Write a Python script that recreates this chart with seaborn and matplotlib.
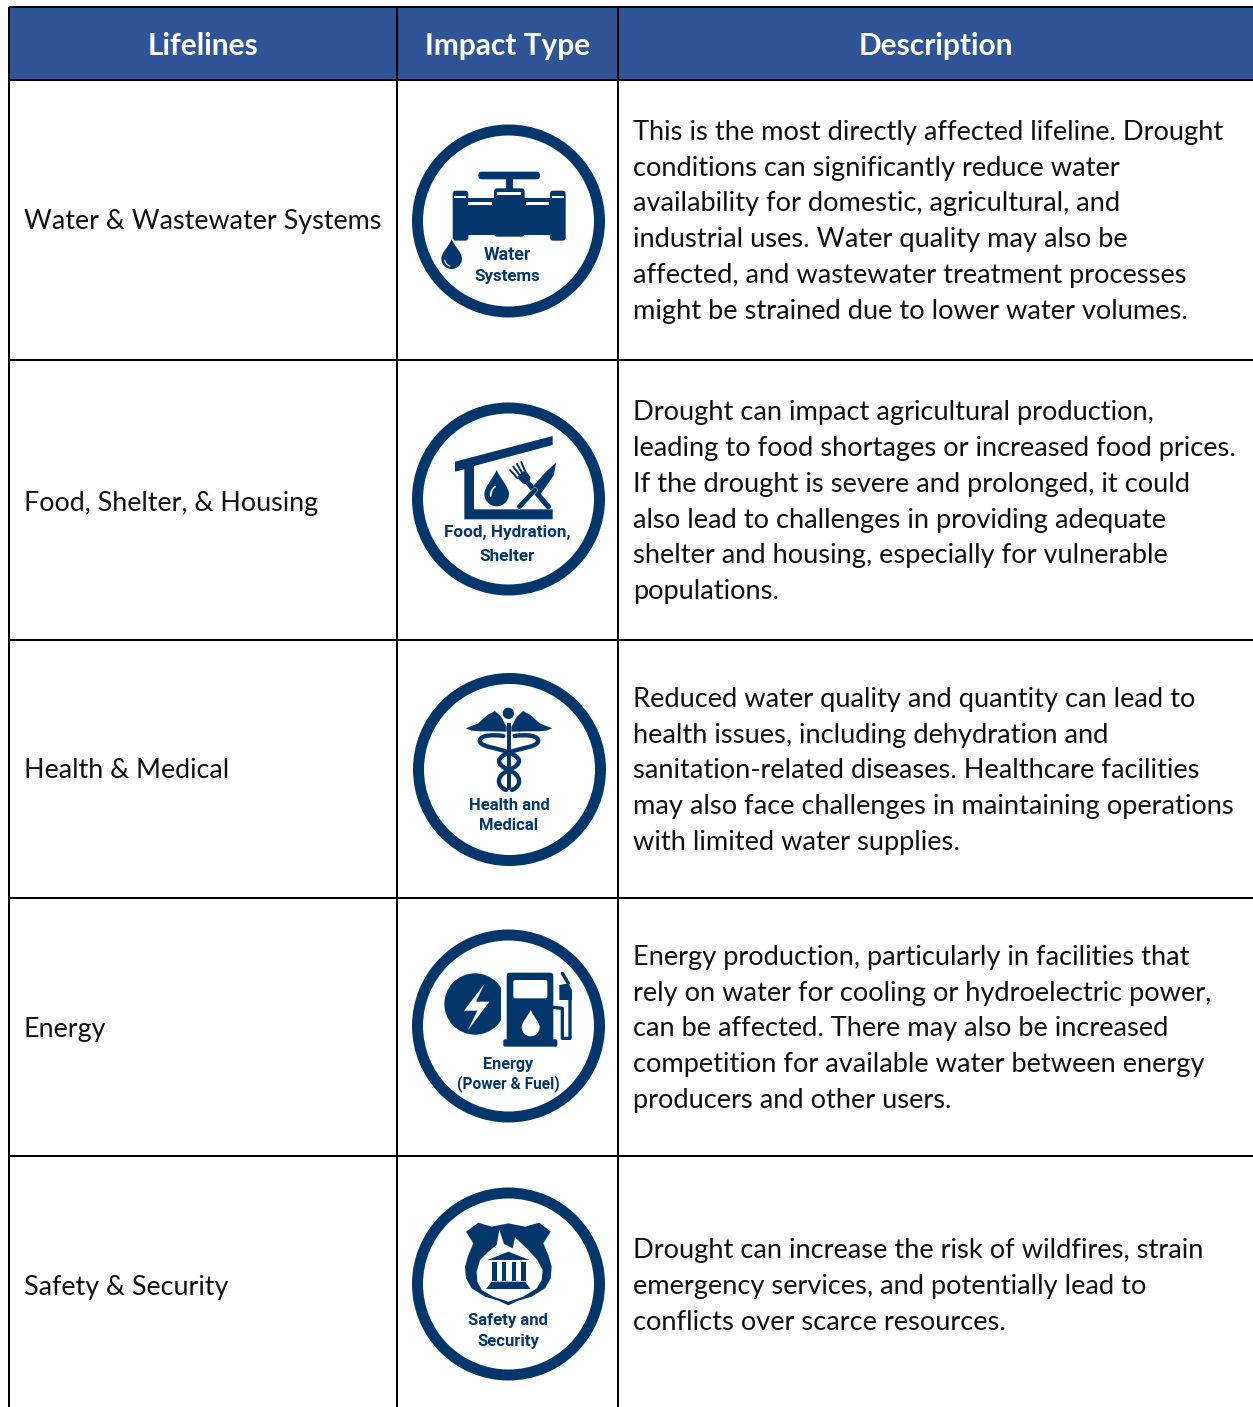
import numpy as np
import seaborn as sns
import matplotlib
matplotlib.use('Agg')
import matplotlib.pyplot as plt
from matplotlib.colors import ListedColormap
from matplotlib.patches import Circle, Polygon, FancyBboxPatch, PathPatch, Rectangle
from matplotlib.path import Path

W, H = 1253, 1407

headers = ["Lifelines", "Impact Type", "Description"]
lifelines = ["Water & Wastewater Systems", "Food, Shelter, & Housing", "Health & Medical",
             "Energy", "Safety & Security"]
lifeline_y = [220, 501, 769, 1027, 1285]
descriptions = [
    ["This is the most directly affected lifeline. Drought",
     "conditions can significantly reduce water",
     "availability for domestic, agricultural, and",
     "industrial uses. Water quality may also be",
     "affected, and wastewater treatment processes",
     "might be strained due to lower water volumes."],
    ["Drought can impact agricultural production,",
     "leading to food shortages or increased food prices.",
     "If the drought is severe and prolonged, it could",
     "also lead to challenges in providing adequate",
     "shelter and housing, especially for vulnerable",
     "populations."],
    ["Reduced water quality and quantity can lead to",
     "health issues, including dehydration and",
     "sanitation-related diseases. Healthcare facilities",
     "may also face challenges in maintaining operations",
     "with limited water supplies."],
    ["Energy production, particularly in facilities that",
     "rely on water for cooling or hydroelectric power,",
     "can be affected. There may also be increased",
     "competition for available water between energy",
     "producers and other users."],
    ["Drought can increase the risk of wildfires, strain",
     "emergency services, and potentially lead to",
     "conflicts over scarce resources."],
]
description_y = [
    [131, 167, 202, 238, 274, 310],
    [411, 447, 483, 519, 554, 590],
    [698, 734, 769, 805, 841],
    [956, 992, 1027, 1063, 1099],
    [1249, 1285, 1321],
]
col_edges = [9, 397, 618, 1253]
row_edges = [7, 80, 360, 640, 898, 1156, 1407]
icon_centres = [(508.5, 221), (508.5, 499), (509.5, 769.5), (508.5, 1026), (508.5, 1284)]
icon_labels = [["Water", "Systems"], ["Food, Hydration,", "Shelter"], ["Health and", "Medical"],
               ["Energy", "(Power & Fuel)"], ["Safety and", "Security"]]

HEADER_BLUE = '#2F5597'
NAVY = '#03376B'
BODY_FONT = ['Lato', 'DejaVu Sans']
ICON_FONT = ['Roboto', 'DejaVu Sans']

sns.set_theme(style='white')
plt.rcParams['font.family'] = BODY_FONT

fig = plt.figure(figsize=(W / 100, H / 100), dpi=100, facecolor='white')


def axes_px(x0, y0, x1, y1):
    return fig.add_axes([x0 / W, 1 - y1 / H, (x1 - x0) / W, (y1 - y0) / H])


# header cells
for i, label in enumerate(headers):
    ax_h = axes_px(col_edges[i], row_edges[0], col_edges[i + 1], row_edges[1])
    sns.heatmap([[1]], ax=ax_h, cmap=ListedColormap([HEADER_BLUE]), cbar=False,
                annot=[[label]], fmt='', xticklabels=False, yticklabels=False,
                annot_kws={'color': 'white', 'fontsize': 21.5, 'fontweight': 'bold'})
    ax_h.texts[0].set_y(0.54)

ax = fig.add_axes([0, 0, 1, 1])
ax.set_xlim(0, W)
ax.set_ylim(H, 0)
ax.axis('off')

# grid
lw2 = 2 * 0.72
for x in col_edges[:-1]:
    ax.vlines(x, row_edges[0], H, color='black', lw=lw2)
for y in row_edges[:-1]:
    ax.hlines(y, col_edges[0], W, color='black', lw=lw2)

# cell text
for label, y in zip(lifelines, lifeline_y):
    ax.text(24, y + 9.5, label, fontsize=19.4, color='#111111', va='baseline')
for lines, ys in zip(descriptions, description_y):
    for line, y in zip(lines, ys):
        ax.text(633, y + 9, line, fontsize=19.65, color='#111111', va='baseline')


class Icon:
    # shapes are given in 3x crop coordinates, relative to a crop origin
    def __init__(self, ox, oy):
        self.ox, self.oy = ox, oy

    def p(self, xy):
        return [(self.ox + x / 3, self.oy + y / 3) for x, y in xy]

    def poly(self, xy, color=NAVY):
        ax.add_patch(Polygon(self.p(xy), closed=True, fc=color, ec='none'))

    def rect(self, x0, y0, x1, y1, color=NAVY, r=0):
        (a, b), (c, d) = self.p([(x0, y0), (x1, y1)])
        if r:
            ax.add_patch(FancyBboxPatch((a + r, b + r), c - a - 2 * r, d - b - 2 * r,
                                        boxstyle=f'round,pad={r}', fc=color, ec='none'))
        else:
            ax.add_patch(Rectangle((a, b), c - a, d - b, fc=color, ec='none'))

    def line(self, xy, t, color=NAVY):
        pts = np.array(self.p(xy))
        ax.plot(pts[:, 0], pts[:, 1], color=color, lw=t / 3 * 0.72, solid_capstyle='round',
                solid_joinstyle='round')

    def curve(self, xy, t, color=NAVY):
        codes = [Path.MOVETO] + [Path.CURVE4] * (len(xy) - 1)
        ax.add_patch(PathPatch(Path(self.p(xy), codes), fc='none', ec=color,
                               lw=t / 3 * 0.72, capstyle='round'))

    def circle(self, x, y, r, color=NAVY):
        (a, b), = self.p([(x, y)])
        ax.add_patch(Circle((a, b), r / 3, fc=color, ec='none'))

    def drop(self, x, tip, cy, r, color=NAVY):
        k = 0.55 * r
        verts = [(x, tip), (x + 0.35 * r, tip + 0.4 * (cy - tip)), (x + r, cy - k), (x + r, cy),
                 (x + r, cy + k), (x + k, cy + r), (x, cy + r),
                 (x - k, cy + r), (x - r, cy + k), (x - r, cy),
                 (x - r, cy - k), (x - 0.35 * r, tip + 0.4 * (cy - tip)), (x, tip)]
        codes = [Path.MOVETO] + [Path.CURVE4] * 12
        ax.add_patch(PathPatch(Path(self.p(verts), codes), fc=color, ec='none'))

    def label(self, x, y, s, size=12.2, weight='bold'):
        (a, b), = self.p([(x, y)])
        ax.text(a, b, s, ha='center', va='center', fontsize=size, color=NAVY,
                fontweight=weight, family=ICON_FONT)


# rings
for (cx, cy) in icon_centres:
    ax.add_patch(Circle((cx, cy), 91, fc='white', ec=NAVY, lw=11 * 0.72))

# water systems
ic = Icon(400, 100)
ic.rect(235, 215, 420, 238, r=3.5)
ic.rect(318, 235, 338, 268)
ic.rect(282, 265, 374, 410, r=3)
ic.rect(158, 272, 205, 422, r=3)
ic.rect(450, 272, 497, 422, r=3)
ic.rect(205, 295, 450, 405)
for box in [(163, 287, 198, 295), (292, 275, 364, 285), (205, 305, 275, 314),
            (377, 305, 448, 314), (456, 287, 492, 295)]:
    ic.rect(*box, color='white')
ic.drop(155, 418, 476, 31)
ic.curve([(134, 480), (136, 490), (142, 496), (150, 498)], 3, color='white')
ic.label(322, 465, icon_labels[0][0], 12.8)
ic.label(322, 530, icon_labels[0][1], 12.2)

# food, hydration, shelter
ic = Icon(400, 390)
ic.poly([(165, 215), (458, 138), (458, 165), (222, 228), (222, 358), (458, 358), (458, 388),
         (193, 388), (193, 238), (165, 245)])
ic.drop(290, 240, 312, 37)
ic.curve([(272, 318), (272, 305), (278, 295), (285, 290)], 5, color='white')
ic.line([(445, 350), (385, 280)], 16)
ic.poly([(350, 262), (376, 240), (392, 262), (385, 285), (368, 280)])
for a, b in [((352, 264), (330, 240)), ((360, 257), (340, 230)),
             ((367, 250), (351, 222)), ((375, 243), (364, 216))]:
    ic.line([a, b], 6)
ic.line([(358, 350), (405, 300)], 16, color='white')
ic.line([(358, 350), (405, 300)], 14)
ic.poly([(468, 218), (462, 255), (420, 315), (395, 293), (440, 243)])
ic.label(322, 428, icon_labels[1][0], 12.3)
ic.label(322, 500, icon_labels[1][1], 12.3)

# health and medical
ic = Icon(400, 660)
ic.circle(325, 160, 17)
wing = [(197, 205), (235, 190), (262, 165), (285, 153), (305, 172), (314, 190), (320, 200),
        (320, 215), (270, 214), (240, 214), (215, 212)]
ic.poly(wing)
ic.poly([(654 - x, y) for x, y in wing])
ic.rect(320, 190, 333, 390)
strand = [(310, 228), (270, 222), (235, 228), (240, 245), (245, 262), (290, 262), (327, 278),
          (362, 292), (372, 310), (327, 330), (292, 345), (285, 375), (318, 390)]
ic.curve(strand, 13)
ic.curve([(654 - x, y) for x, y in strand], 13)
ic.label(327, 438, icon_labels[2][0], 12)
ic.label(327, 498, icon_labels[2][1], 12)

# energy
ic = Icon(400, 920)
circle = Circle((400 + 225 / 3, 920 + 252 / 3), 92 / 3, fc=NAVY, ec='none')
ax.add_patch(circle)
(cx0, cy0), (cx1, cy1) = ic.p([(130, 150), (303, 350)])
circle.set_clip_path(Rectangle((cx0, cy0), cx1 - cx0, cy1 - cy0, transform=ax.transData))
ic.poly([(253, 192), (192, 272), (232, 272), (203, 332), (268, 245), (228, 245)], color='white')
ic.rect(320, 158, 460, 365, r=3)
ic.rect(310, 358, 472, 380, r=1.5)
ic.rect(340, 180, 442, 235, color='white', r=2)
ic.drop(392, 270, 322, 27, color='white')
ic.line([(460, 262), (487, 265), (487, 355), (510, 355), (510, 235)], 10)
ic.poly([(478, 195), (505, 190), (516, 210), (516, 240), (478, 240)])
ic.line([(487, 160), (505, 190)], 10)
ic.label(325, 432, icon_labels[3][0], 11.6)
ic.label(325, 490, icon_labels[3][1], 11.2)

# safety and security
ic = Icon(400, 1180)
ic.poly([(198, 155), (235, 128), (275, 140), (325, 130), (375, 140), (418, 128), (452, 155),
         (430, 190), (445, 225), (455, 260), (452, 295), (435, 325), (395, 350), (355, 362),
         (325, 376), (295, 362), (255, 350), (215, 325), (198, 295), (195, 260), (205, 225),
         (220, 190)])
ic.poly([(298, 150), (312, 192), (338, 205), (345, 172), (385, 210), (412, 240), (428, 270),
         (425, 300), (410, 325), (370, 350), (325, 365), (280, 350), (245, 330), (232, 305),
         (230, 275), (240, 240), (265, 215), (290, 195)], color='white')
ic.poly([(262, 240), (325, 215), (388, 240)])
for x0, x1 in [(275, 290), (305, 318), (335, 348), (363, 378)]:
    ic.rect(x0, 245, x1, 302)
ic.poly([(258, 327), (275, 305), (375, 305), (392, 327)])
ic.label(325, 423, icon_labels[4][0], 12)
ic.label(325, 485, icon_labels[4][1], 12)

fig.savefig('out.png', dpi=100)
